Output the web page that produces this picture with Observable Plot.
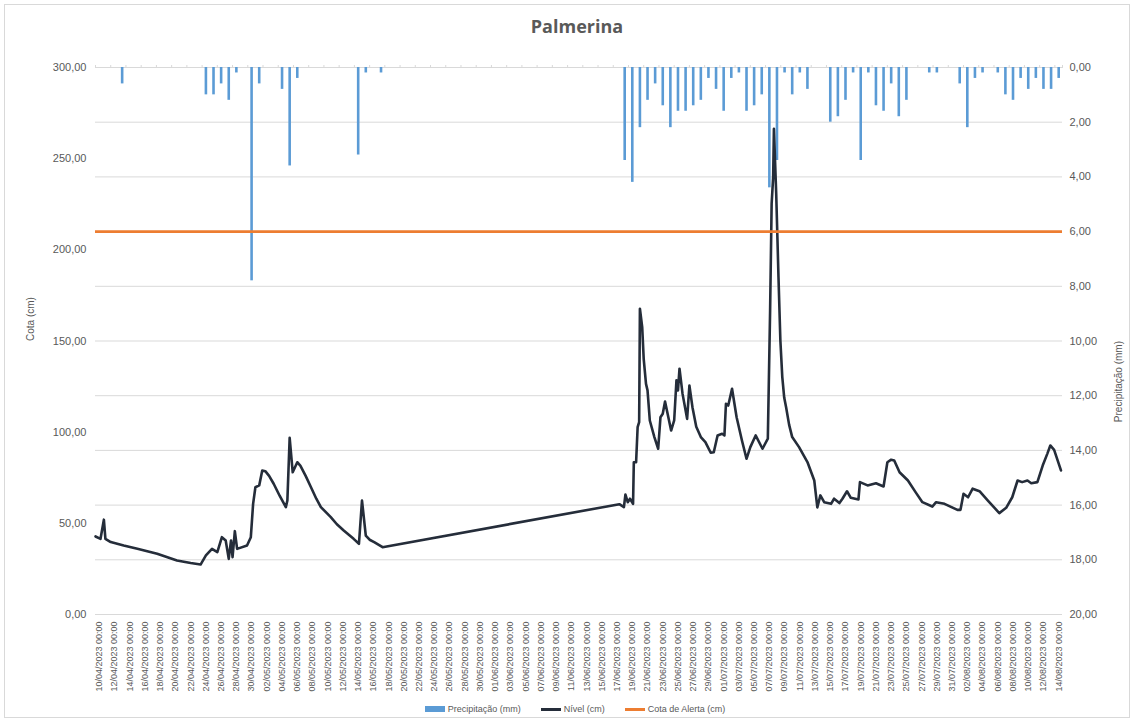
<!DOCTYPE html>
<html><head><meta charset="utf-8">
<script src="https://cdn.jsdelivr.net/npm/d3@7"></script>
<script src="https://cdn.jsdelivr.net/npm/@observablehq/plot@0.6"></script>
<style>
body{margin:0;background:#fff;font-family:"Liberation Sans",Arial,sans-serif;}
#wrap{position:relative;width:1134px;height:722px;overflow:hidden;background:#fff}
#border{position:absolute;left:4px;top:4px;width:1126px;height:714px;border:1px solid #d9d9d9;box-sizing:border-box}
#title{position:absolute;left:10px;width:1134px;top:14px;text-align:center;font:bold 18px "Open Sans",sans-serif;color:#595959}
#chart{position:absolute;left:0;top:45px}
#legend{position:absolute;top:703px;left:0;width:1150px;display:flex;justify-content:center;gap:20px;font-size:9px;color:#595959;line-height:12px}
#legend .it{display:flex;align-items:center;gap:3px}
#legend .sw{display:inline-block;width:20px}
</style>
</head><body>
<div id="wrap">
  <div id="border"></div>
  <div id="title">Palmerina</div>
  <div id="chart"></div>
  <div id="legend"></div>
</div>
<script>
// ---------- DATA ----------
const chartTitle = "Palmerina";
const startDate = "2023-04-10"; // first category (10/04/2023 00:00)
const endDate = "2023-08-14";   // last category (14/08/2023 00:00)
const alertLabel = "Cota de Alerta (cm)";
const levelLabel = "Nível (cm)";
const precipLabel = "Precipitação (mm)";
const leftTitle = "Cota (cm)";
const rightTitle = "Precipitação (mm)";
const alertCm = 210;

// daily precipitation (dd/mm, mm)
const precipDay = ["13/04","24/04","25/04","26/04","27/04","28/04","30/04","01/05","04/05","05/05","06/05","14/05","15/05","17/05",
  "18/06","19/06","20/06","21/06","22/06","23/06","24/06","25/06","26/06","27/06","28/06","29/06","30/06",
  "01/07","02/07","03/07","04/07","05/07","06/07","07/07","08/07","09/07","10/07","11/07","12/07",
  "15/07","16/07","17/07","18/07","19/07","20/07","21/07","22/07","23/07","24/07","25/07","28/07","29/07",
  "01/08","02/08","03/08","04/08","06/08","07/08","08/08","09/08","10/08","11/08","12/08","13/08","14/08"];
const precipMm = [0.6,1.0,1.0,0.6,1.2,0.2,7.8,0.6,0.8,3.6,0.4,3.2,0.2,0.2,
  3.4,4.2,2.2,1.2,0.6,1.4,2.2,1.6,1.6,1.4,1.2,0.4,0.8,
  1.6,0.4,0.2,1.6,1.4,1.0,4.4,3.4,0.2,1.0,0.2,0.8,
  2.0,1.8,1.2,0.2,3.4,0.2,1.4,1.6,0.6,1.8,1.2,0.2,0.2,
  0.6,2.2,0.4,0.2,0.2,1.0,1.2,0.4,0.8,0.4,0.8,0.8,0.4];

// river level: time in days since 10/04/2023 00:00, level in cm
const levelDay = [-0.5,0.16,0.6,0.8,1.5,3.2,5.0,7.6,10.2,12,13.3,14,14.8,15.5,16.1,16.6,17,17.3,17.5,17.8,18.1,19.4,19.9,20.2,20.5,21,21.4,21.8,22.3,22.9,23.7,24.5,24.7,25,25.4,26,26.4,27.1,27.8,28.5,29.1,30.4,31.2,32.1,33.4,34.1,34.5,35,35.5,36.1,37.2,
  68.3,68.9,69.1,69.4,69.7,70.1,70.2,70.5,70.7,70.9,71.0,71.3,71.5,71.8,72,72.3,72.9,73.4,73.7,74,74.3,75.1,75.5,75.8,76,76.2,76.6,77.2,77.5,77.9,78.4,79,79.6,80.3,80.7,81.2,81.8,82.1,82.3,82.6,83.1,83.7,84.4,85,85.5,86.2,87.1,87.8,
  88.1,88.3,88.5,88.6,88.9,89.2,89.45,89.7,89.95,90.2,90.6,91,91.9,93,93.9,94.3,94.7,95.2,96.1,96.5,97.2,97.6,98.2,98.7,99.7,99.9,100.9,102,103,103.5,104,104.4,105.1,106.2,107.2,108.1,109.4,109.9,111,112.7,113.1,113.5,114.1,114.7,115.6,116.7,118.2,119.1,119.9,120.6,121.2,121.9,122.4,123.2,123.9,124.5,124.9,125.4,126.3];
const levelCm = [42.8,41.5,52,41.5,39.7,37.8,36,33.3,29.6,28.2,27.4,32.4,36,34.2,42.4,40.6,30.5,40.6,31.4,45.7,36,37.8,42.4,60.7,69.8,70.8,79,78.6,76,71.7,65,58.9,62.5,96.9,78,83.5,81.7,76,69.8,63.5,58.9,53.4,49.5,46.1,41.5,38.8,62.5,43.3,41,39.7,36.9,
  60.5,58.9,65.8,61.6,63.5,60.7,83.5,83.5,102.7,105.5,167.7,157.6,140,126.5,122.9,106.4,97.3,90.9,108.2,110.1,116.8,100.9,106.4,128.4,122.9,134.8,121,107.3,125.6,113.7,103,97.3,94.5,88.7,89,98.2,99.1,98.2,115.6,114.6,123.8,108.2,95.4,85.4,91.8,98.2,90.9,96.4,
  166.8,225.3,239.9,266.4,230.8,185,150,130.2,119,113.7,104,97.3,91.8,83.6,73.5,58.7,65.3,61.6,60.7,63.5,61.1,63.5,67.6,64,63.1,72.6,70.8,72,70.2,83.5,84.9,84.5,78,73.5,67.1,61.6,59.2,61.6,60.7,57.4,57.4,66.2,64.3,69,67.6,62.5,55.6,58.5,64.3,73.5,72.6,73.5,72,72.6,81.7,88.1,92.7,90.3,79];

// axes
const leftTicks = [0,50,100,150,200,250,300];      // cm
const rightTicksMm = [0,2,4,6,8,10,12,14,16,18,20]; // mm (reversed axis)
const cmMax = 300, mmMax = 20;

// ---------- BUILD ----------
const DAY = 864e5;
const t0 = Date.parse(startDate + "T00:00:00Z");
const tEnd = Date.parse(endDate + "T00:00:00Z");
const toDate = d => new Date(t0 + d * DAY);
const parseDM = s => { const [dd, mm] = s.split("/").map(Number); return new Date(Date.UTC(2023, mm - 1, dd)); };
const mmToCm = mm => cmMax - mm * (cmMax / mmMax);

const precip = precipDay.map((s, i) => ({date: parseDM(s), mm: precipMm[i]}));
const level = levelDay.map((d, i) => ({date: toDate(d), cm: levelCm[i]}));
const nDays = Math.round((tEnd - t0) / DAY);
const labelTicks = d3.range(0, nDays + 1, 2).map(toDate);
const catTicks = d3.range(-0.5, nDays + 1, 2).map(toDate).concat([toDate(nDays + 0.5)]);
const gridCm = rightTicksMm.map(mmToCm);
const fmtNum = v => v.toFixed(2).replace(".", ",");
const fmtDate = d3.utcFormat("%d/%m/%Y %H:%M");

const chart = Plot.plot({
  width: 1134,
  height: 654,
  marginLeft: 95,
  marginRight: 72,
  marginTop: 22,
  marginBottom: 85,
  style: {fontFamily: "'Liberation Sans', Arial, sans-serif", color: "#595959", background: "transparent"},
  x: {type: "utc", domain: [toDate(-0.5), toDate(nDays + 0.5)]},
  y: {domain: [0, cmMax]},
  marks: [
    Plot.ruleY(gridCm, {stroke: "#d9d9d9", strokeWidth: 1}),
    Plot.axisX({anchor: "top", ticks: catTicks, tickSize: 3, tickFormat: () => "", stroke: "#d9d9d9", label: null}),
    Plot.axisX({anchor: "bottom", ticks: labelTicks, tickSize: 0, tickPadding: 7, tickRotate: -90, tickFormat: fmtDate, fontSize: 9, label: null}),
    Plot.axisY({anchor: "left", ticks: leftTicks, tickSize: 0, tickPadding: 9, tickFormat: fmtNum, fontSize: 11, label: null}),
    Plot.axisY({anchor: "right", ticks: gridCm, tickSize: 0, tickPadding: 7, tickFormat: v => fmtNum((cmMax - v) * mmMax / cmMax), fontSize: 11, label: null}),
    Plot.text([leftTitle], {frameAnchor: "left", rotate: -90, dx: -65, text: d => d, fontSize: 10, fill: "#595959"}),
    Plot.text([rightTitle], {frameAnchor: "right", rotate: -90, dx: 56, text: d => d, fontSize: 10, fill: "#595959"}),
    Plot.ruleX(precip, {x: "date", y1: cmMax, y2: d => mmToCm(d.mm), stroke: "#5b9bd5", strokeWidth: 2.6}),
    Plot.line(level, {x: "date", y: "cm", stroke: "#252d3a", strokeWidth: 2.6, strokeLinejoin: "round", curve: "linear"}),
    Plot.ruleY([alertCm], {stroke: "#ed7d31", strokeWidth: 2.6})
  ]
});
document.getElementById("chart").appendChild(chart);
document.getElementById("title").textContent = chartTitle;

const legendItems = [
  {label: precipLabel, html: '<span class="sw" style="height:6px;background:#5b9bd5"></span>'},
  {label: levelLabel, html: '<span class="sw" style="height:3px;background:#252d3a"></span>'},
  {label: alertLabel, html: '<span class="sw" style="height:3px;background:#ed7d31"></span>'}
];
document.getElementById("legend").innerHTML = legendItems.map(it => `<span class="it">${it.html}<span>${it.label}</span></span>`).join("");
</script>
</body></html>
